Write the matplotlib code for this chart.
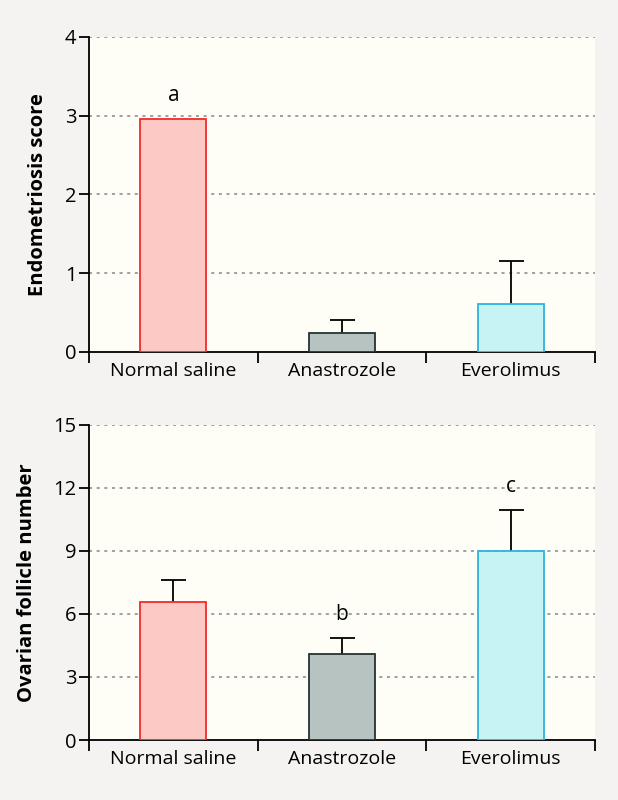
import matplotlib.pyplot as plt
import numpy as np

groups = ['Normal saline', 'Anastrozole', 'Everolimus']

# top panel: endometriosis score
endo_mean = [2.96, 0.24, 0.61]
endo_err = [0.0, 0.16, 0.55]
endo_letters = ['a', '', '']

# bottom panel: ovarian follicle number
foll_mean = [6.56, 4.08, 9.0]
foll_err = [1.07, 0.79, 1.94]
foll_letters = ['', 'b', 'c']

fills = ['#fdc9c5', '#b7c3c1', '#c6f3f3']
edges = ['#f52a2a', '#233333', '#2bb3e0']

plt.rcParams['font.family'] = ['Open Sans', 'DejaVu Sans']

fig = plt.figure(figsize=(6.18, 8), dpi=100, facecolor='#f4f3f1')
ax1 = fig.add_axes([0.144, 0.56, 0.819, 0.394])
ax2 = fig.add_axes([0.144, 0.075, 0.819, 0.394])


def draw_panel(ax, means, errs, letters, ylim, yticks, ylabel):
    x = np.arange(len(groups))
    ax.set_facecolor('#fffef6')
    ax.bar(x, means, width=0.39, color=fills, edgecolor=edges, linewidth=1.3, zorder=3)
    for xi, m, e, lab in zip(x, means, errs, letters):
        top = m
        if e > 0:
            # upper half only: hide the cap at the bar top
            _, caps, _ = ax.errorbar(xi, m, yerr=[[0], [e]], color='black', capsize=9,
                                     elinewidth=1.3, capthick=1.3, zorder=2)
            caps[0].set_visible(False)
            top = m + e
        if lab:
            ax.annotate(lab, (xi, top), xytext=(0, 17), textcoords='offset points',
                        ha='center', va='center', fontsize=15)
    ax.set_xlim(-0.5, 2.5)
    ax.set_ylim(*ylim)
    ax.set_yticks(yticks)
    ax.tick_params(axis='y', direction='out', length=7, width=1.3, labelsize=14.5, pad=2)
    ax.set_xticks(x)
    ax.set_xticklabels(groups, fontsize=14)
    ax.tick_params(axis='x', which='major', length=0, pad=7)
    ax.set_xticks([-0.5, 0.5, 1.5, 2.5], minor=True)
    ax.tick_params(axis='x', which='minor', direction='out', length=8, width=1.3)
    for yt in yticks[1:]:
        ax.axhline(yt, color='#7c8b8b', linestyle=(0, (2, 3)), linewidth=1.1, zorder=1)
    ax.spines['top'].set_visible(False)
    ax.spines['right'].set_visible(False)
    ax.spines['left'].set_linewidth(1.3)
    ax.spines['bottom'].set_linewidth(1.3)
    ax.set_ylabel(ylabel, fontsize=14.5, fontweight='bold', labelpad=12)


draw_panel(ax1, endo_mean, endo_err, endo_letters, (0, 4), [0, 1, 2, 3, 4],
           'Endometriosis score')
draw_panel(ax2, foll_mean, foll_err, foll_letters, (0, 15), [0, 3, 6, 9, 12, 15],
           'Ovarian follicle number')

fig.savefig('out.png', dpi=100, facecolor=fig.get_facecolor())
